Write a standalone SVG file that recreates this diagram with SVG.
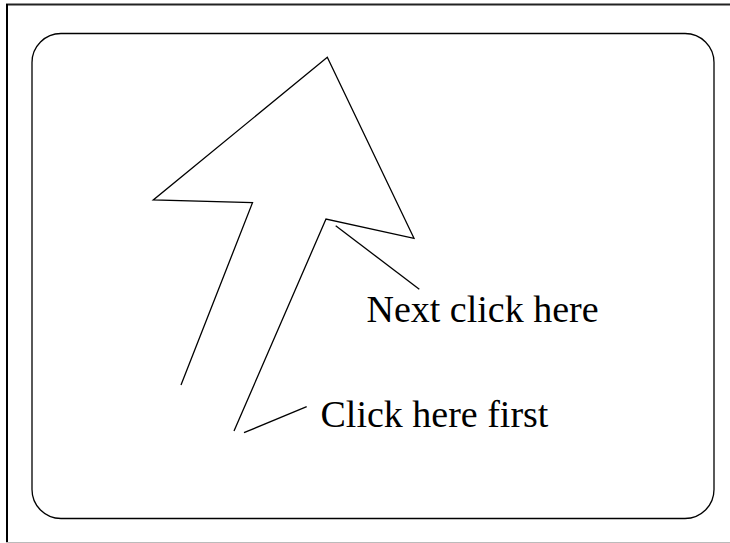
<svg xmlns="http://www.w3.org/2000/svg" width="730" height="543" viewBox="0 0 730 543">
<style>
.ln{fill:none;stroke:#000;stroke-width:1.3;stroke-linejoin:miter}
.lbl{font-family:"Liberation Serif","Times New Roman",serif;font-size:38px;fill:#000}
</style>
<rect width="730" height="543" fill="#fff"/>
<g id="frame">
<line x1="6" y1="4.5" x2="730" y2="4.5" stroke="#222" stroke-width="2"/>
<line x1="7" y1="4" x2="7" y2="543" stroke="#000" stroke-width="2"/>
<line x1="6" y1="542.5" x2="730" y2="542.5" stroke="#bbb" stroke-width="1"/>
<rect x="32" y="33.5" width="682" height="485" rx="29" ry="29" class="ln"/>
</g>
<g id="arrow">
<polyline class="ln" points="181,385 252.5,202.7 153.3,200 327.3,57.3 414,238.3 326,219 234,431"/>
</g>
<g id="connectors">
<line class="ln" x1="244" y1="432.7" x2="306.7" y2="406.7"/>
<line class="ln" x1="335.7" y1="225.7" x2="419.3" y2="289.3"/>
</g>
<g id="label-next"><text class="lbl" x="366.5" y="321.5">Next click here</text></g>
<g id="label-first"><text class="lbl" x="320.5" y="426.5">Click here first</text></g>
</svg>
